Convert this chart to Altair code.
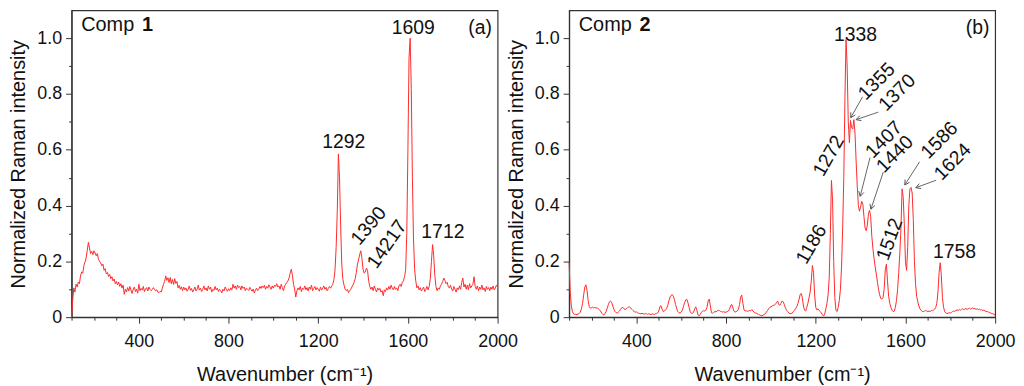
import math
import altair as alt
import pandas as pd

# ---------------- data ----------------
WN = list(range(100, 2001, 5))

COMP1 = [
    0.0, 0.06, 0.105, 0.09, 0.118, 0.108, 0.126, 0.12, 0.148, 0.162, 0.158, 0.185, 0.198, 0.212, 0.24, 0.268, 0.248, 0.228, 0.236, 0.224,
    0.238, 0.23, 0.22, 0.228, 0.208, 0.2, 0.194, 0.184, 0.19, 0.168, 0.174, 0.155, 0.16, 0.146, 0.153, 0.138, 0.145, 0.13, 0.137, 0.12,
    0.128, 0.116, 0.126, 0.11, 0.12, 0.104, 0.115, 0.082, 0.1, 0.09, 0.106, 0.094, 0.11, 0.097, 0.085, 0.1, 0.108, 0.092, 0.1, 0.086,
    0.118, 0.095, 0.103, 0.097, 0.11, 0.092, 0.101, 0.106, 0.094, 0.108, 0.1, 0.095, 0.099, 0.106, 0.1, 0.094, 0.098, 0.09, 0.088, 0.093,
    0.09, 0.104, 0.118, 0.128, 0.148, 0.132, 0.141, 0.124, 0.142, 0.12, 0.135, 0.117, 0.138, 0.121, 0.128, 0.105, 0.114, 0.1, 0.109, 0.095,
    0.108, 0.098, 0.105, 0.093, 0.1, 0.112, 0.096, 0.103, 0.09, 0.098, 0.108, 0.094, 0.1, 0.115, 0.097, 0.104, 0.092, 0.1, 0.112, 0.098,
    0.105, 0.094, 0.112, 0.1, 0.108, 0.09, 0.1, 0.096, 0.11, 0.098, 0.104, 0.092, 0.1, 0.095, 0.087, 0.1, 0.094, 0.108, 0.1, 0.093,
    0.102, 0.095, 0.105, 0.098, 0.118, 0.104, 0.112, 0.1, 0.115, 0.106, 0.11, 0.098, 0.112, 0.103, 0.108, 0.095, 0.104, 0.1, 0.096, 0.107,
    0.099, 0.093, 0.101, 0.087, 0.097, 0.104, 0.095, 0.1, 0.11, 0.103, 0.112, 0.106, 0.114, 0.1, 0.11, 0.104, 0.116, 0.108, 0.1, 0.112,
    0.104, 0.115, 0.11, 0.12, 0.108, 0.112, 0.1, 0.118, 0.106, 0.095, 0.112, 0.118, 0.125, 0.13, 0.14, 0.158, 0.172, 0.15, 0.118, 0.1,
    0.072, 0.095, 0.105, 0.098, 0.11, 0.092, 0.104, 0.1, 0.112, 0.098, 0.106, 0.094, 0.108, 0.1, 0.115, 0.095, 0.103, 0.11, 0.098, 0.106,
    0.1, 0.093, 0.108, 0.097, 0.104, 0.112, 0.1, 0.107, 0.095, 0.103, 0.11, 0.104, 0.112, 0.118, 0.135, 0.17, 0.25, 0.38, 0.585, 0.5,
    0.33, 0.19, 0.135, 0.115, 0.1, 0.095, 0.1, 0.088, 0.094, 0.1, 0.108, 0.115, 0.125, 0.138, 0.16, 0.19, 0.205, 0.225, 0.238, 0.21,
    0.172, 0.158, 0.162, 0.176, 0.168, 0.13, 0.11, 0.1, 0.108, 0.095, 0.112, 0.1, 0.09, 0.105, 0.097, 0.103, 0.09, 0.095, 0.077, 0.098,
    0.092, 0.105, 0.098, 0.11, 0.1, 0.115, 0.104, 0.098, 0.11, 0.1, 0.105, 0.095, 0.112, 0.118, 0.11, 0.125, 0.13, 0.145, 0.17, 0.3,
    0.6, 0.93, 1.0, 0.82, 0.5, 0.28, 0.17, 0.13, 0.105, 0.112, 0.098, 0.106, 0.094, 0.1, 0.108, 0.092, 0.1, 0.11, 0.098, 0.11,
    0.14, 0.2, 0.26, 0.22, 0.15, 0.11, 0.095, 0.105, 0.1, 0.112, 0.118, 0.128, 0.14, 0.132, 0.12, 0.125, 0.11, 0.104, 0.115, 0.1,
    0.094, 0.11, 0.1, 0.09, 0.105, 0.098, 0.112, 0.1, 0.125, 0.14, 0.108, 0.118, 0.1, 0.115, 0.098, 0.12, 0.105, 0.112, 0.118, 0.145,
    0.11, 0.1, 0.112, 0.095, 0.108, 0.1, 0.115, 0.098, 0.105, 0.092, 0.11, 0.1, 0.106, 0.095, 0.108, 0.1, 0.112, 0.098, 0.105, 0.115, 0.108,
]

COMP2 = [
    0.195, 0.09, 0.04, 0.02, 0.012, 0.01, 0.01, 0.009, 0.011, 0.013, 0.018, 0.03, 0.05, 0.08, 0.108, 0.116, 0.095, 0.06, 0.038, 0.032,
    0.034, 0.036, 0.033, 0.035, 0.032, 0.034, 0.03, 0.027, 0.022, 0.015, 0.01, 0.008, 0.012, 0.02, 0.032, 0.045, 0.055, 0.058, 0.052, 0.04,
    0.028, 0.02, 0.016, 0.015, 0.018, 0.022, 0.028, 0.034, 0.035, 0.03, 0.027, 0.03, 0.034, 0.036, 0.037, 0.033, 0.028, 0.024, 0.02, 0.018,
    0.019, 0.016, 0.014, 0.013, 0.012, 0.014, 0.012, 0.011, 0.013, 0.012, 0.01, 0.012, 0.011, 0.009, 0.012, 0.011, 0.01, 0.012, 0.013, 0.015,
    0.022, 0.038, 0.041, 0.028, 0.02, 0.022, 0.026, 0.032, 0.042, 0.058, 0.072, 0.078, 0.081, 0.075, 0.062, 0.045, 0.03, 0.02, 0.016, 0.015,
    0.018, 0.025, 0.038, 0.052, 0.062, 0.064, 0.052, 0.035, 0.02, 0.014, 0.013, 0.018, 0.03, 0.037, 0.025, 0.008, 0.005, 0.01, 0.018, 0.021,
    0.023, 0.022, 0.025, 0.035, 0.058, 0.065, 0.04, 0.016, 0.014, 0.018, 0.02, 0.019, 0.022, 0.025, 0.024, 0.021, 0.02, 0.018, 0.02, 0.017,
    0.018, 0.02, 0.022, 0.028, 0.04, 0.046, 0.035, 0.022, 0.018, 0.02, 0.022, 0.028, 0.045, 0.072, 0.079, 0.05, 0.026, 0.022, 0.023, 0.021,
    0.022, 0.024, 0.023, 0.027, 0.022, 0.018, 0.015, 0.014, 0.012, 0.01, 0.008, 0.006, 0.005, 0.007, 0.01, 0.012, 0.018, 0.024, 0.03, 0.035,
    0.037, 0.04, 0.042, 0.043, 0.046, 0.052, 0.058, 0.045, 0.043, 0.05, 0.058, 0.055, 0.045, 0.032, 0.025, 0.02, 0.015, 0.012, 0.013, 0.015,
    0.02, 0.025, 0.03, 0.038, 0.048, 0.062, 0.08, 0.085, 0.07, 0.04, 0.025, 0.022, 0.035, 0.05, 0.07, 0.09, 0.13, 0.185, 0.16, 0.08,
    0.035, 0.026, 0.03, 0.024, 0.02, 0.015, 0.008, 0.004, 0.012, 0.03, 0.05, 0.08, 0.14, 0.3, 0.49, 0.42, 0.2, 0.07, 0.025, 0.02,
    0.035, 0.06, 0.1, 0.18, 0.32, 0.5, 0.78, 0.995, 0.9, 0.7, 0.625, 0.705, 0.68, 0.675, 0.708, 0.66, 0.56, 0.47, 0.4, 0.38,
    0.395, 0.415, 0.405, 0.36, 0.32, 0.31, 0.33, 0.37, 0.383, 0.36, 0.29, 0.245, 0.21, 0.18, 0.155, 0.125, 0.1, 0.08, 0.067, 0.065,
    0.07, 0.1, 0.17, 0.19, 0.13, 0.075, 0.05, 0.035, 0.025, 0.02, 0.022, 0.035, 0.06, 0.1, 0.16, 0.23, 0.32, 0.46, 0.43, 0.33,
    0.2, 0.168, 0.25, 0.4, 0.46, 0.465, 0.445, 0.35, 0.2, 0.12, 0.075, 0.055, 0.04, 0.03, 0.025, 0.02, 0.02, 0.022, 0.024, 0.022,
    0.02, 0.022, 0.02, 0.024, 0.023, 0.025, 0.028, 0.035, 0.05, 0.09, 0.16, 0.195, 0.15, 0.07, 0.035, 0.02, 0.015, 0.013, 0.014, 0.016,
    0.015, 0.017, 0.02, 0.022, 0.021, 0.024, 0.026, 0.024, 0.027, 0.025, 0.028, 0.03, 0.027, 0.029, 0.031, 0.028, 0.03, 0.032, 0.029, 0.031,
    0.033, 0.03, 0.031, 0.028, 0.03, 0.027, 0.029, 0.026, 0.027, 0.024, 0.025, 0.022, 0.02, 0.021, 0.018, 0.017, 0.015, 0.013, 0.012, 0.01, 0.008,
]

# peak labels, panel (a)
LBL1_TEXT = ["1292", "1609", "1712", "1390", "14217"]
LBL1_X = [1314, 1624, 1756, 1425, 1507]
LBL1_Y = [0.627, 1.036, 0.306, 0.327, 0.261]
LBL1_ANG = [0, 0, 0, 310, 305]

# peak labels, panel (b)
LBL2_TEXT = ["1338", "1758", "1186", "1272", "1355", "1370", "1407", "1440", "1586", "1624", "1512"]
LBL2_X = [1377, 1819, 1181, 1258, 1472, 1563, 1504, 1553, 1752, 1811, 1530]
LBL2_Y = [1.011, 0.232, 0.261, 0.578, 0.845, 0.805, 0.636, 0.584, 0.634, 0.557, 0.279]
LBL2_ANG = [0, 0, 300, 300, 315, 315, 315, 315, 315, 315, 290]

# arrows, panel (b): start (near label) -> tip (at peak)
ARR_X = [1409, 1479, 1442, 1501, 1663, 1737]
ARR_Y = [0.790, 0.735, 0.572, 0.520, 0.557, 0.491]
ARR_X2 = [1356, 1380, 1398, 1446, 1597, 1646]
ARR_Y2 = [0.715, 0.708, 0.433, 0.387, 0.474, 0.464]

COMP_TEXT = ["1", "2"]
PANEL_TAG = ["(a)", "(b)"]

# ---------------- layout / style ----------------
W, H = 429, 309
XMIN, XMAX, YMAX = 100, 2000, 1.1
FONT = "Liberation Sans"
LINE_RED = "#ff2a2a"
INK = "#111111"

xs = alt.Scale(domain=[XMIN, XMAX], nice=False, zero=False)
ys = alt.Scale(domain=[0, YMAX], nice=False, zero=True)

xaxis = alt.Axis(
    values=list(range(100, 2001, 100)),
    labelExpr="datum.value % 400 == 0 ? datum.label : ''",
    format="d",
    tickSize={"condition": {"test": "datum.value % 400 == 0", "value": 6}, "value": 3},
    grid=False, labelOverlap=False, labelFlush=False,
    labelPadding=10, titlePadding=14,
)
yaxis = alt.Axis(
    values=[round(i * 0.1, 1) for i in range(11)],
    labelExpr="round(datum.value*10) % 2 == 0 ? (datum.value == 0 ? '0' : format(datum.value, '.1f')) : ''",
    tickSize={"condition": {"test": "round(datum.value*10) % 2 == 0", "value": 6}, "value": 3},
    grid=False, labelOverlap=False, labelFlush=False,
    labelPadding=4, titlePadding=8,
)

XT = "Wavenumber (cm⁻¹)"
YT = "Normalized Raman intensity"

PXX = W / (XMAX - XMIN)
PXY = H / YMAX


def xenc(f="x"):
    return alt.X(f + ":Q", scale=xs, axis=xaxis, title=XT)


def yenc(f="y"):
    return alt.Y(f + ":Q", scale=ys, axis=yaxis, title=YT)


def panel(ys_vals, lt, lx, ly, la, idx, arrows=None):
    line_df = pd.DataFrame({"x": WN, "y": ys_vals})
    line = alt.Chart(line_df).mark_line(color=LINE_RED, strokeWidth=1).encode(x=xenc(), y=yenc())

    lab_df = pd.DataFrame({"x": lx, "y": ly, "t": lt, "a": la})
    labels = alt.Chart(lab_df).mark_text(
        font=FONT, fontSize=19.5, color=INK, align="center", baseline="middle"
    ).encode(x=xenc(), y=yenc(), text="t:N", angle=alt.Angle("a:Q", scale=None))

    comp_df = pd.DataFrame({"x": [143], "y": [1.047], "t": ["Comp"]})
    comp = alt.Chart(comp_df).mark_text(
        font=FONT, fontSize=20, color=INK, align="left", baseline="middle"
    ).encode(x=xenc(), y=yenc(), text="t:N")
    num_df = pd.DataFrame({"x": [414], "y": [1.047], "t": [COMP_TEXT[idx]]})
    num = alt.Chart(num_df).mark_text(
        font=FONT, fontSize=20, fontWeight="bold", color=INK, align="left", baseline="middle"
    ).encode(x=xenc(), y=yenc(), text="t:N")
    tag_df = pd.DataFrame({"x": [1975], "y": [1.035], "t": [PANEL_TAG[idx]]})
    tag = alt.Chart(tag_df).mark_text(
        font=FONT, fontSize=19.5, color=INK, align="right", baseline="middle"
    ).encode(x=xenc(), y=yenc(), text="t:N")

    layers = [line, labels, comp, num, tag]
    if arrows is not None:
        ax, ay, ax2, ay2 = arrows
        angs = []
        for a, b, c, d in zip(ax, ay, ax2, ay2):
            dx = (c - a) * PXX
            dy = -(d - b) * PXY
            angs.append(math.degrees(math.atan2(dx, -dy)) % 360)
        arr_df = pd.DataFrame({"x": ax, "y": ay, "x2": ax2, "y2": ay2, "a": angs})
        shafts = alt.Chart(arr_df).mark_rule(color="#555555", strokeWidth=0.9).encode(
            x=xenc(), y=yenc(), x2="x2:Q", y2="y2:Q"
        )
        heads = alt.Chart(arr_df).mark_point(
            shape="M -0.55 1 L 0 0 L 0.55 1", filled=False, color="#555555",
            strokeWidth=0.9, size=90, opacity=1,
        ).encode(
            x=alt.X("x2:Q", scale=xs, axis=xaxis, title=XT),
            y=alt.Y("y2:Q", scale=ys, axis=yaxis, title=YT),
            angle=alt.Angle("a:Q", scale=None),
        )
        layers += [shafts, heads]

    return alt.layer(*layers).properties(width=W, height=H)


p1 = panel(COMP1, LBL1_TEXT, LBL1_X, LBL1_Y, LBL1_ANG, 0)
p2 = panel(COMP2, LBL2_TEXT, LBL2_X, LBL2_Y, LBL2_ANG, 1, arrows=(ARR_X, ARR_Y, ARR_X2, ARR_Y2))

chart = (
    alt.hconcat(p1, p2, spacing=72, bounds="flush")
    .properties(padding={"left": 0, "top": 0, "right": 0, "bottom": 0})
    .configure_view(stroke="#333333", strokeWidth=1.2)
    .configure_axis(
        labelFont=FONT, titleFont=FONT, labelFontSize=18, titleFontSize=20,
        titleFontWeight="normal", labelColor=INK, titleColor=INK,
        domainColor="#333333", tickColor="#333333", domainWidth=1.2, tickWidth=1,
    )
)

chart.save("out.html", embed_options={"renderer": "svg", "actions": False})
